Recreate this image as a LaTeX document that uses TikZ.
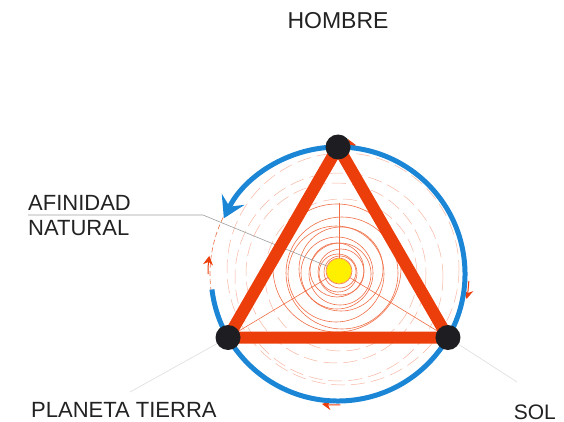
\documentclass[tikz,border=0pt]{standalone}
\usepackage{fontspec}
\setmainfont{Liberation Sans}
\usetikzlibrary{arrows.meta,calc}
\definecolor{cblue}{RGB}{28,134,214}
\definecolor{cred}{RGB}{236,62,10}
\definecolor{corange}{RGB}{240,110,70}
\definecolor{cdot}{RGB}{30,30,34}
\definecolor{csun}{RGB}{255,240,0}
\definecolor{ctext}{RGB}{34,34,34}
\begin{document}
\begin{tikzpicture}[x=1pt,y=-1pt,
  lbl/.style={inner sep=0pt,text=ctext,font=\fontsize{22}{25}\selectfont},
  thinorange/.style={draw=corange,line width=0.6pt},
  farorange/.style={draw=corange,line width=0.5pt,dash pattern=on 14pt off 6pt,opacity=0.5},
  greyline/.style={draw=gray!75,line width=0.6pt},
  faintline/.style={draw=gray!22,line width=0.8pt},
  bluering/.style={draw=cblue,line width=5pt},
  reddash/.style={draw=corange,line width=0.6pt,dash pattern=on 5pt off 3pt},
  redtip/.style={draw=cred,line width=1pt,-{Stealth[length=9pt,width=10pt,inset=3pt]}},
  edge/.style={draw=cred,line width=12pt},
  vdot/.style={circle,fill=cdot,minimum size=25pt,inner sep=0pt},
  sunstyle/.style={circle,fill=csun,draw=orange!70,line width=0.4pt,minimum size=25pt,inner sep=0pt}]
\useasboundingbox (0,0) rectangle (564,422);

\coordinate (O) at (338,274);
\coordinate (S) at (339,271);
\coordinate (vH) at ($(O)+(-90:127)$);
\coordinate (vL) at ($(O)+(150:127)$);
\coordinate (vR) at ($(O)+(30:127)$);

% faint leader lines
\coordinate (fL) at (130,392);
\coordinate (fR) at (517,382);
\draw[faintline] (vL) -- (fL);
\draw[faintline] (vR) -- (fR);

% orange spiral-like circles
\foreach \r/\dx/\dy in {13/0/0,16/1/1,19/-1/2,23/2/1,27/-2/-1,31/1/3,36/-2/2,42/2/-2,48/-3/3,56/3/2,64/-2/-3}
  \draw[thinorange] ($(S)+(\dx,\dy)$) circle[radius=\r];
\foreach \r/\dx/\dy in {76/2/4,90/-3/2,104/0/6,116/4/-2}
  \draw[farorange] ($(S)+(\dx,\dy)$) circle[radius=\r];
% radial lines
\coordinate (rTop) at (339,203);
\draw[thinorange] (S) -- (rTop);
\draw[thinorange] (S) -- (vL);
\draw[thinorange] (S) -- (vR);

% red dashed orbit and small arrows
\draw[reddash] (O) circle[radius=128];
\draw[redtip] ($(O)+(180:130)$) arc[start angle=180, end angle=188, radius=130];
\draw[redtip] ($(O)+(3:131)$) arc[start angle=3, end angle=11, radius=131];
\draw[redtip] ($(O)+(89:131)$) arc[start angle=89, end angle=97, radius=131];
\draw[redtip] ($(O)+(-89:130)$) arc[start angle=-89, end angle=-82, radius=130];

% blue orbit
\draw[bluering,-{Stealth[length=21pt,width=25pt,inset=8pt]}] ($(O)+(173:127)$) arc[start angle=173, end angle=-154, radius=127];

% label connector
\node[lbl,anchor=base west] (afin) at (28,210) {AFINIDAD};
\node[lbl,anchor=base west] (natu) at (28,235) {NATURAL};
\node[sunstyle] (sun) at (S) {};
\coordinate (ulA) at (28,215);
\coordinate (ulB) at (203,215);
\draw[greyline] (ulA) -- (ulB) -- (sun);

% triangle
\draw[edge] (vH) -- (vL) -- (vR) -- cycle;

% vertices
\node[vdot] (dH) at (vH) {};
\node[vdot] (dL) at (vL) {};
\node[vdot] (dR) at (vR) {};

% labels
\node[lbl,anchor=base,font=\fontsize{23}{26}\selectfont] (hombre) at (338,29) {HOMBRE};
\node[lbl,anchor=base west] (tierra) at (31,417) {PLANETA TIERRA};
\node[lbl,anchor=base east,font=\fontsize{21}{24}\selectfont] (sol) at (556,419) {SOL};
\end{tikzpicture}
\end{document}
